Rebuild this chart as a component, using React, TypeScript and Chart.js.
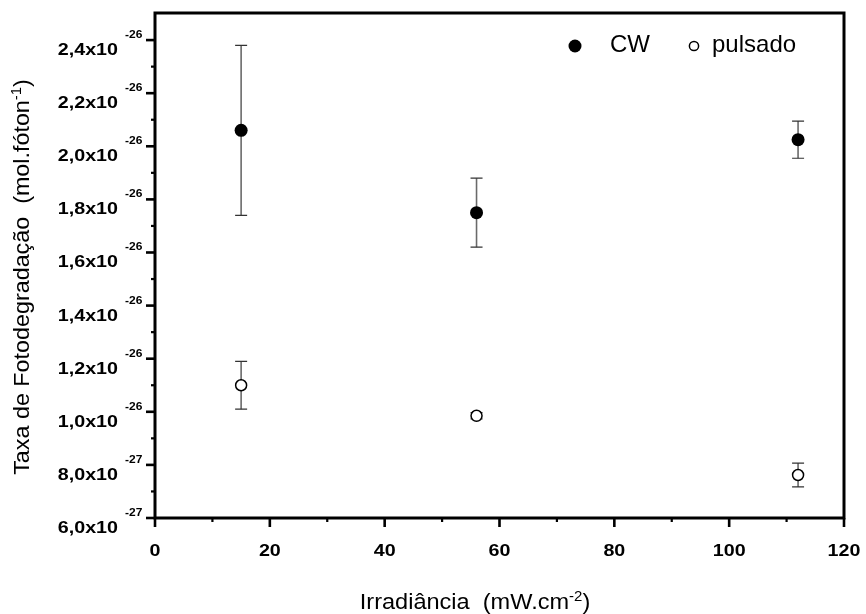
import { useEffect, useRef } from 'react';
import { Chart, registerables } from 'chart.js';

Chart.register(...registerables);

// ---- data ----
const irradiance = [15, 56, 112];
const cwRate = [2.06e-26, 1.75e-26, 2.025e-26];
const cwError = [0.32e-26, 0.13e-26, 0.07e-26];
const pulsedRate = [1.10e-26, 0.985e-26, 0.762e-26];
const pulsedError = [0.09e-26, 0.012e-26, 0.045e-26];

const seriesNames = ['CW', 'pulsado'];

const xTickValues = [0, 20, 40, 60, 80, 100, 120];
const xTickLabels = ['0', '20', '40', '60', '80', '100', '120'];
const xMinorTicks = [10, 30, 50, 70, 90, 110];

const yTickValues = [0.6e-26, 0.8e-26, 1.0e-26, 1.2e-26, 1.4e-26, 1.6e-26, 1.8e-26, 2.0e-26, 2.2e-26, 2.4e-26];
const yTickMantissas = ['6,0', '8,0', '1,0', '1,2', '1,4', '1,6', '1,8', '2,0', '2,2', '2,4'];
const yTickExponents = ['-27', '-27', '-26', '-26', '-26', '-26', '-26', '-26', '-26', '-26'];
const yMinorTicks = [0.7e-26, 0.9e-26, 1.1e-26, 1.3e-26, 1.5e-26, 1.7e-26, 1.9e-26, 2.1e-26, 2.3e-26];

const xTitle = ['Irradiância  (mW.cm', '-2', ')'];
const yTitle = ['Taxa de Fotodegradação  (mol.fóton', '-1', ')'];

const FONT = '"Liberation Sans", Arial, Helvetica, sans-serif';

function stretchedText(ctx: CanvasRenderingContext2D, text: string, x: number, y: number, align: 'left' | 'right' | 'center', sx: number) {
  const w = ctx.measureText(text).width * sx;
  let start = x;
  if (align === 'right') start = x - w;
  else if (align === 'center') start = x - w / 2;
  ctx.save();
  ctx.translate(start, y);
  ctx.scale(sx, 1);
  ctx.textAlign = 'left';
  ctx.fillText(text, 0, 0);
  ctx.restore();
  return w;
}

function richTitle(ctx: CanvasRenderingContext2D, parts: string[], sx: number) {
  const mainFont = `22px ${FONT}`;
  const supFont = `14px ${FONT}`;
  ctx.font = mainFont;
  const w0 = ctx.measureText(parts[0]).width * sx;
  const w2 = ctx.measureText(parts[2]).width * sx;
  ctx.font = supFont;
  const w1 = ctx.measureText(parts[1]).width * sx;
  const total = w0 + w1 + w2;
  let x = -total / 2;
  ctx.font = mainFont;
  x += stretchedText(ctx, parts[0], x, 0, 'left', sx);
  ctx.font = supFont;
  x += stretchedText(ctx, parts[1], x, -8, 'left', sx);
  ctx.font = mainFont;
  stretchedText(ctx, parts[2], x, 0, 'left', sx);
}

const errorBarPlugin = {
  id: 'errorBars',
  beforeDatasetsDraw(chart: any) {
    const ctx = chart.ctx as CanvasRenderingContext2D;
    const ys = chart.scales.y;
    chart.data.datasets.forEach((ds: any, i: number) => {
      const meta = chart.getDatasetMeta(i);
      meta.data.forEach((pt: any, j: number) => {
        const v = ds.data[j].y;
        const e = ds.errors[j];
        const top = ys.getPixelForValue(v + e);
        const bot = ys.getPixelForValue(v - e);
        ctx.save();
        ctx.strokeStyle = '#6a6a6a';
        ctx.lineWidth = 1.6;
        ctx.beginPath();
        ctx.moveTo(pt.x, top);
        ctx.lineTo(pt.x, bot);
        ctx.stroke();
        ctx.strokeStyle = '#333';
        ctx.lineWidth = 1.2;
        ctx.beginPath();
        ctx.moveTo(pt.x - 6, top);
        ctx.lineTo(pt.x + 6, top);
        ctx.moveTo(pt.x - 6, bot);
        ctx.lineTo(pt.x + 6, bot);
        ctx.stroke();
        ctx.restore();
      });
    });
  },
};

const axesPlugin = {
  id: 'originAxes',
  afterDraw(chart: any) {
    const ctx = chart.ctx as CanvasRenderingContext2D;
    const xs = chart.scales.x;
    const ys = chart.scales.y;
    const { left, right, top, bottom } = chart.chartArea;
    ctx.save();
    ctx.fillStyle = '#000';
    ctx.strokeStyle = '#000';
    // frame
    ctx.lineWidth = 3;
    ctx.strokeRect(left, top, right - left, bottom - top);
    // y ticks
    yTickValues.forEach((v) => {
      const py = ys.getPixelForValue(v);
      ctx.fillRect(left - 9, py - 1.3, 9, 2.6);
    });
    yMinorTicks.forEach((v) => {
      const py = ys.getPixelForValue(v);
      ctx.fillRect(left - 4, py - 1.1, 4, 2.2);
    });
    // x ticks
    xTickValues.forEach((v) => {
      const px = xs.getPixelForValue(v);
      ctx.fillRect(px - 1.3, bottom, 2.6, 9);
    });
    xMinorTicks.forEach((v) => {
      const px = xs.getPixelForValue(v);
      ctx.fillRect(px - 1.1, bottom, 2.2, 4);
    });
    // y tick labels
    ctx.textBaseline = 'alphabetic';
    yTickValues.forEach((v, i) => {
      const py = ys.getPixelForValue(v);
      ctx.font = `bold 16px ${FONT}`;
      stretchedText(ctx, yTickMantissas[i] + 'x10', left - 37, py + 15, 'right', 1.23);
      ctx.font = `bold 10px ${FONT}`;
      stretchedText(ctx, yTickExponents[i], left - 30, py - 2, 'left', 1.2);
    });
    // x tick labels
    ctx.font = `bold 16px ${FONT}`;
    xTickValues.forEach((v, i) => {
      const px = xs.getPixelForValue(v);
      stretchedText(ctx, xTickLabels[i], px, bottom + 38, 'center', 1.23);
    });
    // x title
    ctx.save();
    ctx.translate(475, 609);
    richTitle(ctx, xTitle, 1.07);
    ctx.restore();
    // y title
    ctx.save();
    ctx.translate(29, 277);
    ctx.rotate(-Math.PI / 2);
    richTitle(ctx, yTitle, 1.06);
    ctx.restore();
    // legend
    ctx.beginPath();
    ctx.arc(575, 46, 6.5, 0, Math.PI * 2);
    ctx.fill();
    ctx.beginPath();
    ctx.lineWidth = 1.5;
    ctx.arc(694, 46, 4.6, 0, Math.PI * 2);
    ctx.stroke();
    ctx.font = `24px ${FONT}`;
    ctx.textBaseline = 'middle';
    ctx.textAlign = 'left';
    ctx.fillText(seriesNames[0], 610, 45);
    ctx.fillText(seriesNames[1], 712, 45);
    ctx.restore();
  },
};

export default function App() {
  const ref = useRef<HTMLCanvasElement | null>(null);
  useEffect(() => {
    if (!ref.current) return;
    const chart = new Chart(ref.current, {
      type: 'scatter',
      data: {
        datasets: [
          {
            label: seriesNames[0],
            data: irradiance.map((x, i) => ({ x, y: cwRate[i] })),
            errors: cwError,
            pointRadius: 6.5,
            pointBackgroundColor: '#000',
            pointBorderColor: '#000',
            pointBorderWidth: 0,
            showLine: false,
          } as any,
          {
            label: seriesNames[1],
            data: irradiance.map((x, i) => ({ x, y: pulsedRate[i] })),
            errors: pulsedError,
            pointRadius: 5.5,
            pointBackgroundColor: '#fff',
            pointBorderColor: '#000',
            pointBorderWidth: 1.5,
            showLine: false,
          } as any,
        ],
      },
      options: {
        animation: false,
        responsive: false,
        devicePixelRatio: 1,
        events: [],
        layout: { padding: { left: 155, top: 13, right: 22, bottom: 96 } },
        scales: {
          x: { type: 'linear', min: 0, max: 120, display: false },
          y: { type: 'linear', min: 0.6e-26, max: 2.502e-26, display: false },
        },
        plugins: {
          legend: { display: false },
          tooltip: { enabled: false },
        },
      },
      plugins: [errorBarPlugin, axesPlugin],
    });
    return () => chart.destroy();
  }, []);
  return (
    <canvas
      ref={ref}
      width={866}
      height={614}
      style={{ position: 'fixed', left: 0, top: 0, display: 'block', width: 866, height: 614 }}
    />
  );
}
